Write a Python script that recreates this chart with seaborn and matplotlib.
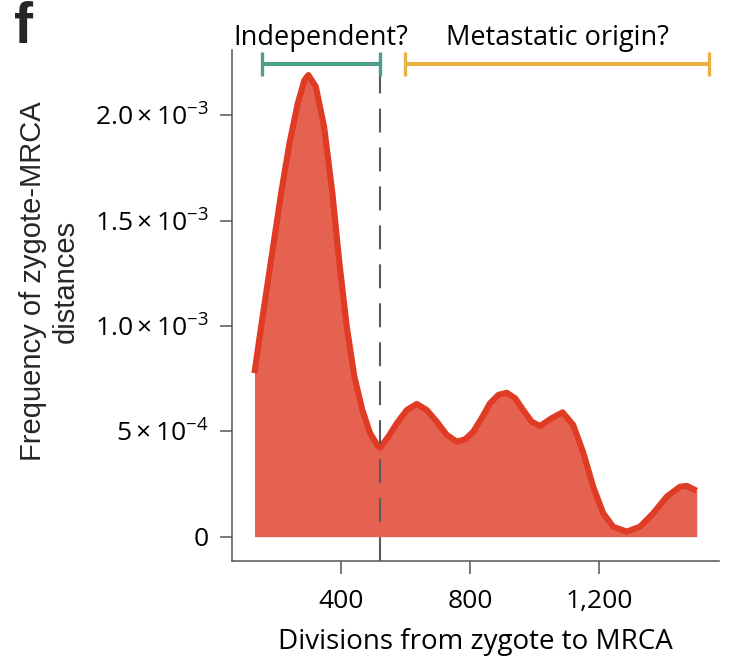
import numpy as np
import pandas as pd
import matplotlib
matplotlib.use("Agg")
import matplotlib.pyplot as plt
import seaborn as sns

# ---- data ----
divisions = [131.8, 152.5, 183.5, 214.5, 240.3, 266.2, 286.7, 299.0, 322.0, 347.7,
             373.5, 394.2, 418.0, 441.6, 466.4, 490.2, 516.0, 521.0, 547.0, 573.0,
             604.0, 635.0, 666.0, 697.0, 728.0, 759.0, 785.0, 810.0, 836.0, 862.0,
             888.0, 914.0, 940.0, 965.0, 991.0, 1017.0, 1053.0, 1087.0, 1120.0, 1151.0,
             1182.0, 1213.0, 1244.0, 1286.0, 1327.0, 1368.0, 1410.0, 1451.0, 1472.0, 1497.0,
             1503.0]
frequency_e4 = [7.76, 9.97, 13.13, 16.3, 18.67, 20.57, 21.67, 21.91, 21.36, 19.46,
                16.3, 13.13, 9.97, 7.6, 6.01, 4.91, 4.27, 4.22, 4.75, 5.38,
                6.01, 6.3, 6.01, 5.46, 4.83, 4.51, 4.62, 4.98, 5.62, 6.33,
                6.73, 6.83, 6.57, 6.01, 5.46, 5.25, 5.62, 5.9, 5.3, 4.0,
                2.37, 1.11, 0.47, 0.24, 0.47, 1.11, 1.9, 2.37, 2.41, 2.22,
                2.18]
frequency = [v * 1e-4 for v in frequency_e4]

threshold = 520
bracket_labels = ["Independent?", "Metastatic origin?"]
bracket_ranges = [(156, 520), (600, 1541)]
bracket_colors = ["#4A9E8A", "#EAB140"]

xtick_values = [400, 800, 1200]
xtick_labels = ["400", "800", "1,200"]
ytick_values = [0, 5e-4, 1e-3, 1.5e-3, 2e-3]
ytick_labels = ["0", r"$5\times10^{-4}$", r"$1.0\times10^{-3}$",
                r"$1.5\times10^{-3}$", r"$2.0\times10^{-3}$"]

df = pd.DataFrame({"divisions": divisions, "frequency": frequency})

# ---- style ----
sns.set_theme(style="ticks")
main_font = "Open Sans"
plt.rcParams["font.family"] = [main_font, "DejaVu Sans"]
plt.rcParams["mathtext.fontset"] = "custom"
plt.rcParams["mathtext.rm"] = main_font
plt.rcParams["mathtext.it"] = main_font + ":italic"
plt.rcParams["mathtext.bf"] = main_font + ":bold"

fill_color = "#E56150"
line_color = "#E03B24"
axis_gray = "#555555"

fig = plt.figure(figsize=(7.54, 6.6), dpi=100)
ax = fig.add_axes([0.3076, 0.1502, 0.6460, 0.7741])

ax.fill_between(df["divisions"], 0, df["frequency"], color=fill_color, lw=0, zorder=1)
sns.lineplot(data=df, x="divisions", y="frequency", ax=ax, color=line_color,
             lw=4.4, zorder=2, sort=False, estimator=None,
             solid_joinstyle="round", solid_capstyle="butt")

ax.set_xlim(62, 1572)
ax.set_ylim(-1.149e-4, 23.10e-4)

ylo = ax.get_ylim()[0]
bracket_y = 22.43e-4
cap_half = 0.58e-4
ax.plot([threshold, threshold], [ylo, bracket_y], color="#5a5a5a", lw=1.5,
        linestyle=(0, (11.5, 7.2)), zorder=3, clip_on=False)

for label, (x0, x1), col in zip(bracket_labels, bracket_ranges, bracket_colors):
    ax.plot([x0, x1], [bracket_y, bracket_y], color=col, lw=2.9, zorder=4,
            clip_on=False, solid_capstyle="butt")
    for xe in (x0, x1):
        ax.plot([xe, xe], [bracket_y - cap_half, bracket_y + cap_half], color=col,
                lw=2.4, zorder=4, clip_on=False, solid_capstyle="butt")
    ax.text((x0 + x1) / 2, 23.34e-4, label, ha="center", va="baseline",
            fontsize=19.5, color="black", clip_on=False)

ax.set_xticks(xtick_values)
ax.set_xticklabels(xtick_labels)
ax.set_yticks(ytick_values)
ax.set_yticklabels(ytick_labels)

for side in ("top", "right"):
    ax.spines[side].set_visible(False)
for side in ("left", "bottom"):
    ax.spines[side].set_color(axis_gray)
    ax.spines[side].set_linewidth(1.1)
ax.tick_params(axis="both", colors=axis_gray, labelcolor="black", length=9,
               width=1.1, labelsize=19, direction="out")
ax.tick_params(axis="y", pad=8)
ax.tick_params(axis="x", pad=11)

ax.set_xlabel("Divisions from zygote to MRCA", fontsize=20, labelpad=10, color="black")
ax.set_ylabel("")
fig.text(49.5 / 754, 1 - 281 / 660, "Frequency of zygote-MRCA\ndistances",
         rotation=90, ha="center", va="center", multialignment="center",
         fontsize=21, family=["Liberation Sans", "DejaVu Sans"], linespacing=1.2)

fig.text(14 / 754, 1 - 1 / 660, "f", ha="left", va="top", fontsize=41,
         fontweight="bold", family=["Liberation Sans", "DejaVu Sans"])

fig.savefig("out.png", dpi=100)
